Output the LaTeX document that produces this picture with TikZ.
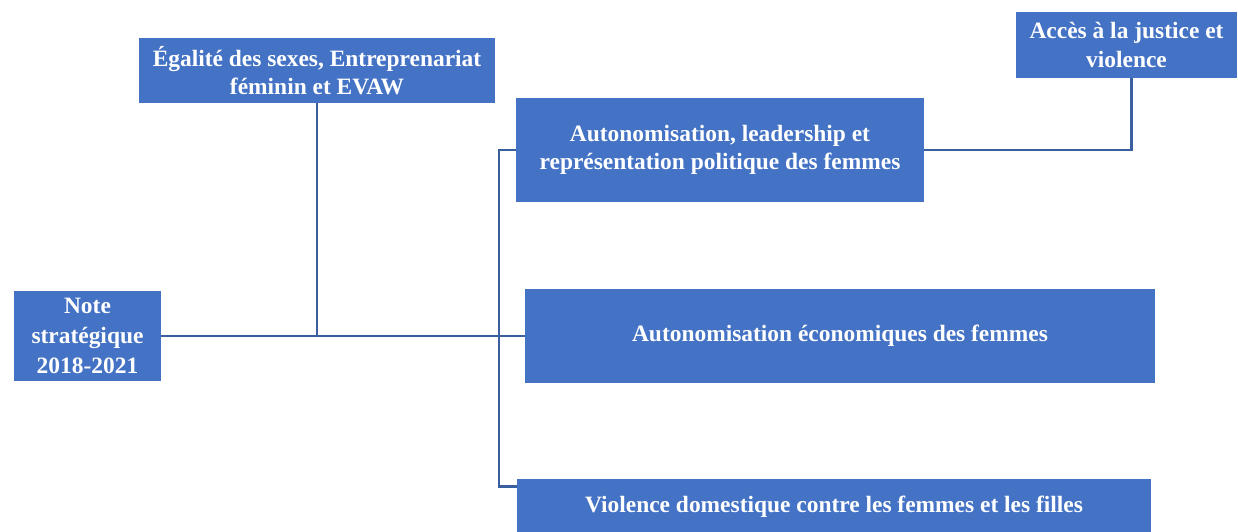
\documentclass[tikz,border=0pt]{standalone}
\usepackage{fontspec}
\setmainfont{Liberation Serif}
\usetikzlibrary{calc}

\definecolor{boxblue}{HTML}{4472C4}
\definecolor{lineblue}{HTML}{3A5F9F}

\tikzset{
    theme/.style={draw=none, fill=boxblue, text=white, font=\fontsize{20}{24.5}\selectfont\bfseries, align=center, inner sep=2pt},
    link/.style={draw=lineblue, line width=2.4pt}
}

\begin{document}
\begin{tikzpicture}[x=0.03cm, y=-0.03cm]

\useasboundingbox (0,0) rectangle (1238,531);

\path (87.5,336) node[theme, minimum width=147*0.03cm, minimum height=90*0.03cm, font=\fontsize{20}{25.5}\selectfont\bfseries] (note) {Note\\strat\'egique\\2018-2021};
\path (317,70.5) node[theme, minimum width=356*0.03cm, minimum height=65*0.03cm] (egal) {\'Egalit\'e des sexes, Entreprenariat\\f\'eminin et EVAW};
\path (1126.5,45) node[theme, minimum width=221*0.03cm, minimum height=66*0.03cm] (acces) {Acc\`es \`a la justice et\\violence};
\path (720,150) node[theme, minimum width=408*0.03cm, minimum height=104*0.03cm] (lead) {Autonomisation, leadership et\\repr\'esentation politique des femmes};
\path (840,336) node[theme, minimum width=630*0.03cm, minimum height=94*0.03cm] (eco) {Autonomisation \'economiques des femmes};
\path (834,507) node[theme, minimum width=634*0.03cm, minimum height=56*0.03cm] (viol) {Violence domestique contre les femmes et les filles};

\coordinate (spine) at (499,336);

\draw[link] (note.east) -- (eco.west);
\draw[link] (egal.south) -- (egal.south |- note.east);
\draw[link] (lead.west) -| (spine) |- ($(viol.north west)+(0,8)$);
\draw[link] (lead.east) -| ($(acces.south)+(5,0)$);

\end{tikzpicture}
\end{document}
